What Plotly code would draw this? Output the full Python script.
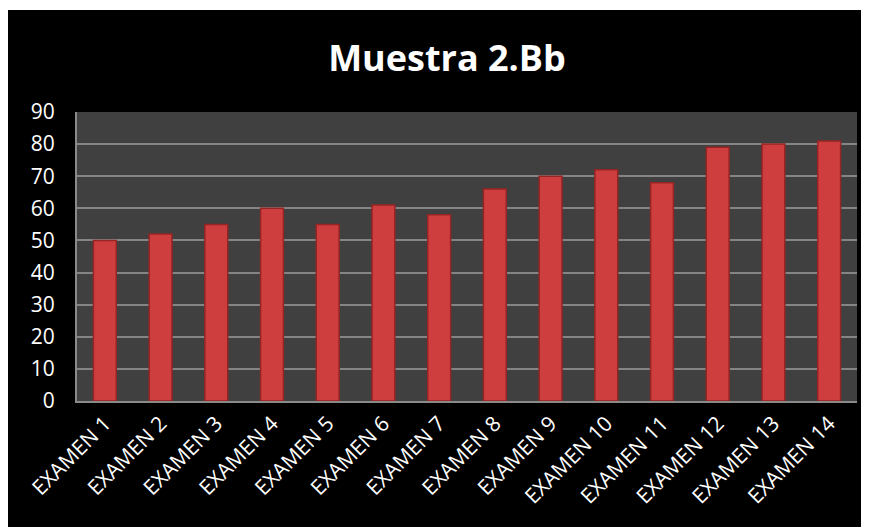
import plotly.graph_objects as go

categories = ["EXAMEN 1", "EXAMEN 2", "EXAMEN 3", "EXAMEN 4", "EXAMEN 5", "EXAMEN 6", "EXAMEN 7",
              "EXAMEN 8", "EXAMEN 9", "EXAMEN 10", "EXAMEN 11", "EXAMEN 12", "EXAMEN 13", "EXAMEN 14"]
values = [50, 52, 55, 60, 55, 61, 58, 66, 70, 72, 68, 79, 80, 81]
y_ticks = [0, 10, 20, 30, 40, 50, 60, 70, 80, 90]

W, H = 869, 527
OFF = 8  # page body margin
L, T = 77 - OFF, 112 - OFF
R = W - (857 - OFF)
B = H - (401 - OFF)
pw, ph = W - L - R, H - T - B

fig = go.Figure()
fig.add_trace(go.Bar(
    x=categories, y=values,
    marker=dict(color="#cf3e3e", line=dict(color="#962424", width=1.5)),
))

def px_y(Y):
    return (H - B - Y) / ph

shapes = [
    dict(type="rect", xref="paper", yref="paper", x0=-0.2, x1=1.2, y0=px_y(0), y1=px_y(2),
         fillcolor="white", line=dict(width=0), layer="above"),
]

fig.update_layout(
    width=W, height=H,
    margin=dict(l=L, r=R, t=T, b=B),
    paper_bgcolor="black",
    plot_bgcolor="#404040",
    bargap=0.59,
    showlegend=False,
    shapes=shapes,
    title=dict(text="<b>Muestra 2.Bb</b>", x=(447 - OFF) / W, xanchor="center", y=1 - (58 - OFF) / H,
               yanchor="middle", font=dict(family="Open Sans", size=36, color="white")),
    xaxis=dict(tickangle=-45, tickfont=dict(family="Open Sans", size=21, color="white"),
               showline=True, linecolor="#8a8a8a", linewidth=2, showgrid=False, ticks=""),
    yaxis=dict(range=[0, 90], tickvals=y_ticks, tickfont=dict(family="Open Sans", size=21, color="white"),
               showline=True, linecolor="#8a8a8a", linewidth=2, gridcolor="#858585", gridwidth=1.5,
               zeroline=False, ticks="", ticklen=0, ticklabelstandoff=16),
)

fig.write_html("out.html")
